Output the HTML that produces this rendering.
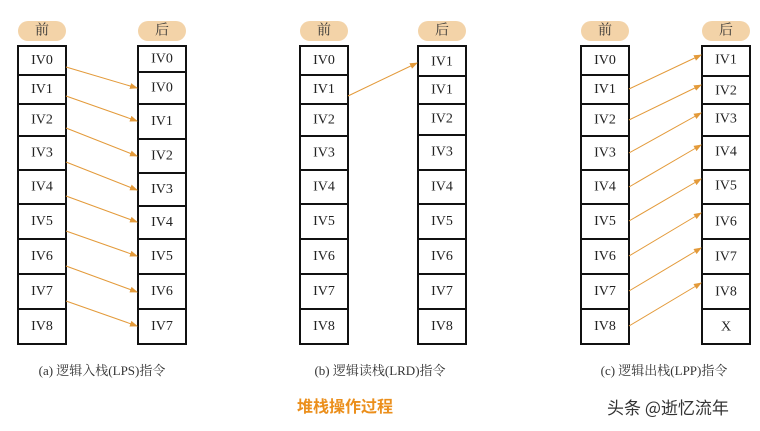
<!DOCTYPE html>
<html><head><meta charset="utf-8"><style>
html,body{margin:0;padding:0;background:#fff;}
svg{display:block;}
.t{font-family:"Liberation Serif","Noto Serif CJK SC",serif;font-size:14px;fill:#222;text-anchor:middle;dominant-baseline:central;}
.h{font-family:"Liberation Serif","Noto Serif CJK SC",serif;font-size:14px;fill:#333;text-anchor:middle;dominant-baseline:central;}
.c{font-family:"Liberation Serif","Noto Serif CJK SC",serif;font-size:13px;fill:#333;text-anchor:middle;}
rect.b{fill:#fff;stroke:#111;stroke-width:2;}
line.a{stroke:#e39a3a;stroke-width:1;marker-end:url(#ar);}
</style></head><body>
<svg width="760" height="431" viewBox="0 0 760 431" xmlns="http://www.w3.org/2000/svg">
<defs><marker id="ar" markerWidth="8" markerHeight="6" refX="7" refY="3" orient="auto" markerUnits="userSpaceOnUse"><path d="M0,0 L8,3 L0,6 Z" fill="#e39a3a"/></marker></defs>
<!-- headers -->
<g fill="#f3d3a8">
<rect x="18" y="21" width="48" height="20" rx="10"/><rect x="138" y="21" width="48" height="20" rx="10"/>
<rect x="300" y="21" width="48" height="20" rx="10"/><rect x="418" y="21" width="48" height="20" rx="10"/>
<rect x="581" y="21" width="48" height="20" rx="10"/><rect x="702" y="21" width="48" height="20" rx="10"/>
</g>
<text class="h" x="42" y="31">前</text><text class="h" x="162" y="31">后</text>
<text class="h" x="324" y="31">前</text><text class="h" x="442" y="31">后</text>
<text class="h" x="605" y="31">前</text><text class="h" x="726" y="31">后</text>

<!-- column generator (static) -->
<!-- a left -->
<g>
<rect class="b" x="18" y="46" width="48" height="29"/><rect class="b" x="18" y="75" width="48" height="29"/><rect class="b" x="18" y="104" width="48" height="32"/><rect class="b" x="18" y="136" width="48" height="34"/><rect class="b" x="18" y="170" width="48" height="34"/><rect class="b" x="18" y="204" width="48" height="35"/><rect class="b" x="18" y="239" width="48" height="35"/><rect class="b" x="18" y="274" width="48" height="35"/><rect class="b" x="18" y="309" width="48" height="35"/>
<text class="t" x="42" y="60.5">IV0</text><text class="t" x="42" y="89.5">IV1</text><text class="t" x="42" y="120">IV2</text><text class="t" x="42" y="153">IV3</text><text class="t" x="42" y="187">IV4</text><text class="t" x="42" y="221.5">IV5</text><text class="t" x="42" y="256.5">IV6</text><text class="t" x="42" y="291.5">IV7</text><text class="t" x="42" y="326.5">IV8</text>
</g>
<!-- a right -->
<g>
<rect class="b" x="138" y="46" width="48" height="26"/><rect class="b" x="138" y="72" width="48" height="32"/><rect class="b" x="138" y="104" width="48" height="35"/><rect class="b" x="138" y="139" width="48" height="34"/><rect class="b" x="138" y="173" width="48" height="33"/><rect class="b" x="138" y="206" width="48" height="33"/><rect class="b" x="138" y="239" width="48" height="35"/><rect class="b" x="138" y="274" width="48" height="35"/><rect class="b" x="138" y="309" width="48" height="35"/>
<text class="t" x="162" y="59">IV0</text><text class="t" x="162" y="88">IV0</text><text class="t" x="162" y="121.5">IV1</text><text class="t" x="162" y="156">IV2</text><text class="t" x="162" y="189.5">IV3</text><text class="t" x="162" y="222.5">IV4</text><text class="t" x="162" y="256.5">IV5</text><text class="t" x="162" y="291.5">IV6</text><text class="t" x="162" y="326.5">IV7</text>
</g>
<line class="a" x1="66" y1="67" x2="137" y2="88"/><line class="a" x1="66" y1="96" x2="137" y2="121"/><line class="a" x1="66" y1="128" x2="137" y2="156"/><line class="a" x1="66" y1="162" x2="137" y2="190"/><line class="a" x1="66" y1="196" x2="137" y2="222"/><line class="a" x1="66" y1="231" x2="137" y2="256"/><line class="a" x1="66" y1="266" x2="137" y2="292"/><line class="a" x1="66" y1="301" x2="137" y2="326"/>

<!-- b left -->
<g>
<rect class="b" x="300" y="46" width="48" height="29"/><rect class="b" x="300" y="75" width="48" height="29"/><rect class="b" x="300" y="104" width="48" height="32"/><rect class="b" x="300" y="136" width="48" height="34"/><rect class="b" x="300" y="170" width="48" height="34"/><rect class="b" x="300" y="204" width="48" height="35"/><rect class="b" x="300" y="239" width="48" height="35"/><rect class="b" x="300" y="274" width="48" height="35"/><rect class="b" x="300" y="309" width="48" height="35"/>
<text class="t" x="324" y="60.5">IV0</text><text class="t" x="324" y="89.5">IV1</text><text class="t" x="324" y="120">IV2</text><text class="t" x="324" y="153">IV3</text><text class="t" x="324" y="187">IV4</text><text class="t" x="324" y="221.5">IV5</text><text class="t" x="324" y="256.5">IV6</text><text class="t" x="324" y="291.5">IV7</text><text class="t" x="324" y="326.5">IV8</text>
</g>
<g>
<rect class="b" x="418" y="46" width="48" height="30"/><rect class="b" x="418" y="76" width="48" height="28"/><rect class="b" x="418" y="104" width="48" height="31"/><rect class="b" x="418" y="135" width="48" height="35"/><rect class="b" x="418" y="170" width="48" height="34"/><rect class="b" x="418" y="204" width="48" height="35"/><rect class="b" x="418" y="239" width="48" height="35"/><rect class="b" x="418" y="274" width="48" height="35"/><rect class="b" x="418" y="309" width="48" height="35"/>
<text class="t" x="442" y="62">IV1</text><text class="t" x="442" y="90">IV1</text><text class="t" x="442" y="119">IV2</text><text class="t" x="442" y="152">IV3</text><text class="t" x="442" y="187">IV4</text><text class="t" x="442" y="221.5">IV5</text><text class="t" x="442" y="256.5">IV6</text><text class="t" x="442" y="291.5">IV7</text><text class="t" x="442" y="326.5">IV8</text>
</g>
<line class="a" x1="348" y1="96" x2="417" y2="63"/>

<!-- c left -->
<g>
<rect class="b" x="581" y="46" width="48" height="29"/><rect class="b" x="581" y="75" width="48" height="29"/><rect class="b" x="581" y="104" width="48" height="32"/><rect class="b" x="581" y="136" width="48" height="34"/><rect class="b" x="581" y="170" width="48" height="34"/><rect class="b" x="581" y="204" width="48" height="35"/><rect class="b" x="581" y="239" width="48" height="35"/><rect class="b" x="581" y="274" width="48" height="35"/><rect class="b" x="581" y="309" width="48" height="35"/>
<text class="t" x="605" y="60.5">IV0</text><text class="t" x="605" y="89.5">IV1</text><text class="t" x="605" y="120">IV2</text><text class="t" x="605" y="153">IV3</text><text class="t" x="605" y="187">IV4</text><text class="t" x="605" y="221.5">IV5</text><text class="t" x="605" y="256.5">IV6</text><text class="t" x="605" y="291.5">IV7</text><text class="t" x="605" y="326.5">IV8</text>
</g>
<g>
<rect class="b" x="702" y="46" width="48" height="30"/><rect class="b" x="702" y="76" width="48" height="28"/><rect class="b" x="702" y="104" width="48" height="32"/><rect class="b" x="702" y="136" width="48" height="34"/><rect class="b" x="702" y="170" width="48" height="34"/><rect class="b" x="702" y="204" width="48" height="35"/><rect class="b" x="702" y="239" width="48" height="35"/><rect class="b" x="702" y="274" width="48" height="35"/><rect class="b" x="702" y="309" width="48" height="35"/>
<text class="t" x="726" y="60">IV1</text><text class="t" x="726" y="91">IV2</text><text class="t" x="726" y="119">IV3</text><text class="t" x="726" y="152">IV4</text><text class="t" x="726" y="186">IV5</text><text class="t" x="726" y="222">IV6</text><text class="t" x="726" y="257">IV7</text><text class="t" x="726" y="292">IV8</text><text class="t" x="726" y="327">X</text>
</g>
<line class="a" x1="629" y1="89" x2="701" y2="55"/><line class="a" x1="629" y1="120" x2="701" y2="85"/><line class="a" x1="629" y1="153" x2="701" y2="113"/><line class="a" x1="629" y1="187" x2="701" y2="145"/><line class="a" x1="629" y1="221" x2="701" y2="179"/><line class="a" x1="629" y1="256" x2="701" y2="213"/><line class="a" x1="629" y1="291" x2="701" y2="248"/><line class="a" x1="629" y1="326" x2="701" y2="283"/>

<!-- captions -->
<text class="c" x="102" y="375">(a) 逻辑入栈(LPS)指令</text>
<text class="c" x="380" y="375">(b) 逻辑读栈(LRD)指令</text>
<text class="c" x="664" y="375">(c) 逻辑出栈(LPP)指令</text>
<text x="345" y="412" text-anchor="middle" style="font-family:'Noto Sans CJK SC',sans-serif;font-size:16px;font-weight:bold;fill:#eb8f1c">堆栈操作过程</text>
<text x="668" y="414" text-anchor="middle" style="font-family:'Noto Sans CJK SC',sans-serif;font-size:17px;fill:#333">头条 @逝忆流年</text>
</svg>
</body></html>
